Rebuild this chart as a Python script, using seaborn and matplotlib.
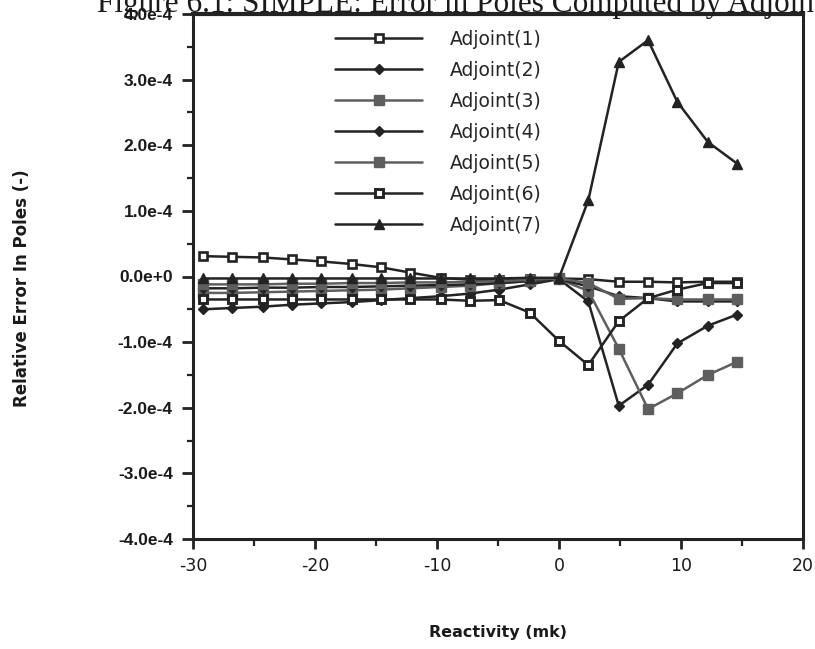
import numpy as np
import pandas as pd
import matplotlib
matplotlib.use("Agg")
import matplotlib.pyplot as plt
import seaborn as sns
from matplotlib.ticker import FixedLocator, MultipleLocator

# Reactivity (mk) at which the poles were evaluated
reactivity = [-29.2, -26.8, -24.3, -21.9, -19.5, -17.0, -14.6, -12.2, -9.7, -7.3,
              -4.9, -2.4, 0.0, 2.4, 4.9, 7.3, 9.7, 12.2, 14.6]

# Relative pole error for each adjoint, in units of 1e-4
adjoint1 = [0.31, 0.30, 0.29, 0.26, 0.23, 0.19, 0.14, 0.06, -0.02, -0.05,
            -0.05, -0.04, -0.03, -0.04, -0.08, -0.08, -0.09, -0.08, -0.08]
adjoint2 = [-0.50, -0.48, -0.46, -0.43, -0.41, -0.39, -0.36, -0.33, -0.30, -0.26,
            -0.20, -0.12, -0.04, -0.38, -1.97, -1.65, -1.02, -0.75, -0.58]
adjoint3 = [-0.25, -0.25, -0.24, -0.23, -0.22, -0.21, -0.20, -0.18, -0.16, -0.14,
            -0.10, -0.07, -0.04, -0.22, -1.10, -2.02, -1.78, -1.50, -1.30]
adjoint4 = [-0.18, -0.18, -0.17, -0.17, -0.16, -0.16, -0.15, -0.14, -0.13, -0.12,
            -0.10, -0.07, -0.04, -0.15, -0.30, -0.33, -0.38, -0.38, -0.38]
adjoint5 = [-0.12, -0.12, -0.12, -0.11, -0.11, -0.10, -0.10, -0.09, -0.09, -0.08,
            -0.07, -0.05, -0.03, -0.10, -0.34, -0.33, -0.35, -0.35, -0.35]
adjoint6 = [-0.35, -0.35, -0.35, -0.35, -0.35, -0.35, -0.35, -0.35, -0.35, -0.37,
            -0.36, -0.55, -0.98, -1.35, -0.68, -0.33, -0.20, -0.10, -0.10]
adjoint7 = [-0.03, -0.03, -0.03, -0.03, -0.03, -0.03, -0.03, -0.03, -0.03, -0.03,
            -0.03, -0.02, -0.02, 1.16, 3.27, 3.60, 2.66, 2.05, 1.72]

series_names = ["Adjoint(1)", "Adjoint(2)", "Adjoint(3)", "Adjoint(4)",
                "Adjoint(5)", "Adjoint(6)", "Adjoint(7)"]
series_values = [adjoint1, adjoint2, adjoint3, adjoint4, adjoint5, adjoint6, adjoint7]

y_ticks = [-4e-4, -3e-4, -2e-4, -1e-4, 0.0, 1e-4, 2e-4, 3e-4, 4e-4]
y_tick_labels = ["-4.0e-4", "-3.0e-4", "-2.0e-4", "-1.0e-4", "0.0e+0",
                 "1.0e-4", "2.0e-4", "3.0e-4", "4.0e-4"]
x_ticks = [-30, -20, -10, 0, 10, 20]
x_tick_labels = ["-30", "-20", "-10", "0", "10", "20"]

UNIT = 1e-4

sns.set_style("ticks")
plt.rcParams["font.family"] = ["DejaVu Sans"]

df = pd.DataFrame({
    "reactivity": np.tile(reactivity, len(series_names)),
    "error": np.concatenate(series_values) * UNIT,
    "series": np.repeat(series_names, len(reactivity)),
})

dark = "#232323"
gray = "#5e5e5e"
marker_styles = {
    "Adjoint(1)": dict(marker="s", color=dark, markerfacecolor="white",
                       markeredgecolor=dark, markersize=5.5, markeredgewidth=1.9),
    "Adjoint(2)": dict(marker="D", color=dark, markerfacecolor=dark,
                       markeredgecolor=dark, markersize=5, markeredgewidth=1),
    "Adjoint(3)": dict(marker="s", color=gray, markerfacecolor=gray,
                       markeredgecolor=gray, markersize=6.5, markeredgewidth=1),
    "Adjoint(4)": dict(marker="D", color=dark, markerfacecolor=dark,
                       markeredgecolor=dark, markersize=5, markeredgewidth=1),
    "Adjoint(5)": dict(marker="s", color=gray, markerfacecolor=gray,
                       markeredgecolor=gray, markersize=6.5, markeredgewidth=1),
    "Adjoint(6)": dict(marker="s", color=dark, markerfacecolor="white",
                       markeredgecolor=dark, markersize=5.5, markeredgewidth=2.1),
    "Adjoint(7)": dict(marker="^", color=dark, markerfacecolor=dark,
                       markeredgecolor=dark, markersize=7, markeredgewidth=1),
}

W, H = 815, 649
fig = plt.figure(figsize=(W / 100, H / 100), dpi=100)
left, right, top, bottom = 193, 803, 14, 539
ax = fig.add_axes([left / W, 1 - bottom / H, (right - left) / W, (bottom - top) / H])

for name in series_names:
    sub = df[df["series"] == name]
    sns.lineplot(data=sub, x="reactivity", y="error", ax=ax, label=name,
                 sort=False, estimator=None, linewidth=1.8,
                 **marker_styles[name])

ax.set_xlim(-30, 20)
ax.set_ylim(-4e-4, 4e-4)
ax.xaxis.set_major_locator(FixedLocator(x_ticks))
ax.set_xticklabels(x_tick_labels)
ax.xaxis.set_minor_locator(MultipleLocator(5))
ax.yaxis.set_major_locator(FixedLocator(y_ticks))
ax.set_yticklabels(y_tick_labels)
ax.yaxis.set_minor_locator(MultipleLocator(0.5e-4))

ax.tick_params(axis="x", which="major", direction="out", length=7, width=2,
               color=dark, labelsize=12.5, labelcolor="#1a1a1a", pad=6)
ax.tick_params(axis="x", which="minor", direction="out", length=5, width=1.6, color=dark)
ax.tick_params(axis="y", which="major", direction="out", length=8, width=2,
               color=dark, pad=6.5)
ax.tick_params(axis="y", which="minor", direction="out", length=4, width=1.6, color=dark)
for lab in ax.get_yticklabels():
    lab.set_fontfamily("Liberation Sans")
    lab.set_fontweight("bold")
    lab.set_fontsize(12.5)
    lab.set_color("#1a1a1a")

for side in ["left", "right", "bottom"]:
    ax.spines[side].set_linewidth(2.2)
    ax.spines[side].set_color(dark)
ax.spines["top"].set_linewidth(3)
ax.spines["top"].set_color(dark)

ax.set_xlabel("")
ax.set_ylabel("")
fig.text((left + right) / 2 / W, 1 - 633 / H, "Reactivity (mk)",
         ha="center", va="center", fontsize=11.5, fontweight="bold", color="#1a1a1a")
fig.text(22 / W, 1 - 288 / H, "Relative Error In Poles (-)",
         ha="center", va="center", rotation=90, fontsize=12, fontweight="bold",
         color="#1a1a1a")

# Caption line running off the top edge of the page
fig.text(97 / W, 1 - 12 / H,
         "Figure 6.1: SIMPLE: Error in Poles Computed by Adjoint Method",
         ha="left", va="baseline", fontsize=22.5, family="Liberation Serif",
         color="#1a1a1a")

ax.legend(loc="upper left", bbox_to_anchor=(335 / W, 1 - 30 / H),
          bbox_transform=fig.transFigure, frameon=False, fontsize=13.5,
          handlelength=4.64, handletextpad=1.5, labelspacing=0.64,
          borderpad=0, borderaxespad=0)

fig.savefig("out.png", dpi=100, facecolor="white")
